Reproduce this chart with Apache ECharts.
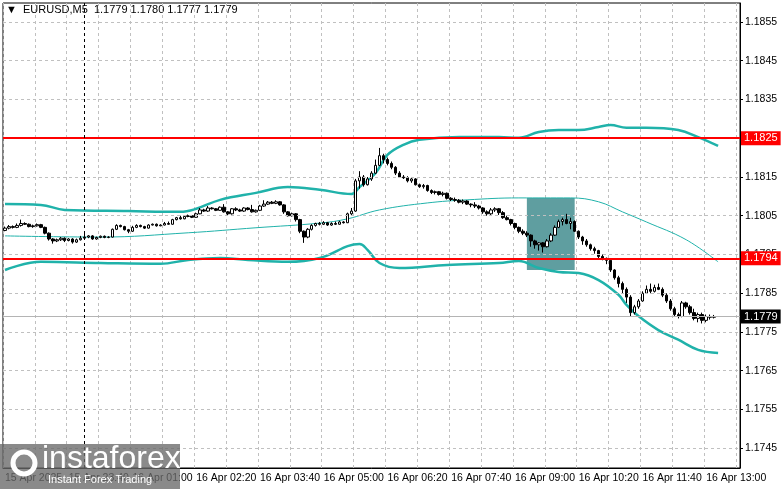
<!doctype html>
<html>
<head>
<meta charset="utf-8">
<title>EURUSD,M5</title>
<script src="https://cdn.jsdelivr.net/npm/echarts@6/dist/echarts.min.js"></script>
<style>
  html, body { margin: 0; padding: 0; background: #fff; }
  #main { width: 781px; height: 489px; }
</style>
</head>
<body>
<div id="main"></div>
<script type="text/javascript">
// all prices in points (1e-5) measured from 1.18000
var candles = [ // [open, close, low, high]
  [12,18,10,22],[18,22,15,26],[22,20,17,25],[20,25,18,30],[25,30,22,40],[30,28,26,33],[28,22,20,30],[22,24,19,27],
  [24,27,22,30],[27,20,18,29],[20,5,2,22],[5,-10,-14,7],[-10,-15,-22,-8],[-15,-12,-18,-9],[-12,-8,-15,-5],[-8,-14,-18,-6],
  [-14,-10,-16,-8],[-10,-18,-22,-8],[-18,-12,-20,-9],[-12,-8,-14,-2],[-8,-5,-10,5],[-5,-2,-8,0],[-2,-10,-12,0],[-10,-6,-12,-4],
  [-6,-3,-8,-1],[-3,-6,-8,-1],[-6,-5,-8,-3],[-5,15,-6,17],[15,25,13,28],[25,22,20,27],[22,14,12,24],[14,10,5,16],
  [10,20,8,24],[20,25,18,28],[25,22,20,27],[22,18,16,24],[18,26,17,28],[26,28,25,30],[28,24,22,30],[24,26,23,28],
  [26,30,25,34],[30,28,27,35],[28,40,27,42],[40,45,38,47],[45,42,40,50],[42,48,41,50],[48,50,46,53],[50,46,44,52],
  [46,55,45,58],[55,65,54,70],[65,62,60,68],[62,70,60,75],[70,68,66,72],[68,64,62,70],[64,72,63,74],[72,60,58,80],
  [60,55,50,62],[55,68,53,70],[68,65,62,72],[65,62,60,68],[62,70,60,72],[70,66,64,72],[66,60,58,78],[60,64,58,66],
  [64,75,62,78],[75,80,73,90],[80,85,78,88],[85,82,80,88],[82,86,80,90],[86,78,76,88],[78,60,55,80],[60,50,48,62],
  [50,55,48,58],[55,40,35,57],[40,10,5,42],[10,-5,-20,12],[-5,15,-8,18],[15,25,12,28],[25,30,22,32],[30,28,25,34],
  [28,32,26,36],[32,26,24,34],[26,30,24,33],[30,28,26,35],[28,34,27,37],[34,32,30,36],[32,55,31,58],[55,62,52,70],
  [62,140,60,145],[140,150,120,165],[150,130,125,155],[130,145,128,150],[145,160,140,165],[160,180,158,195],[180,205,178,225],[205,195,185,210],
  [195,185,180,200],[185,175,170,190],[175,160,155,178],[160,150,148,165],[150,148,145,155],[148,140,136,152],[140,145,135,150],[145,130,128,147],
  [130,125,122,133],[125,128,120,132],[128,115,112,130],[115,110,106,118],[110,112,105,115],[112,105,102,114],[105,108,100,112],[108,95,92,110],
  [95,92,88,98],[92,90,86,97],[90,85,82,93],[85,88,80,92],[88,80,78,90],[80,78,72,82],[78,75,70,85],[75,70,66,78],
  [70,60,55,72],[60,55,50,64],[55,65,52,70],[65,68,60,72],[68,58,52,70],[58,45,42,62],[45,40,38,50],[40,30,25,42],
  [30,20,15,32],[20,10,5,22],[10,5,0,15],[5,0,-5,10],[0,-15,-30,2],[-15,-25,-35,-12],[-25,-20,-40,-18],[-20,-30,-45,-18],
  [-30,-15,-32,-10],[-15,0,-18,5],[0,20,-2,25],[20,35,18,40],[35,40,25,45],[40,30,28,55],[30,35,15,45],[35,10,8,38],
  [10,-5,-10,12],[-5,-15,-25,-2],[-15,-25,-30,-10],[-25,-35,-40,-22],[-35,-40,-48,-30],[-40,-55,-60,-38],[-55,-60,-65,-50],[-60,-65,-75,-58],
  [-65,-90,-95,-62],[-90,-110,-115,-88],[-110,-125,-135,-105],[-125,-140,-150,-120],[-140,-160,-175,-135],[-160,-200,-210,-155],[-200,-185,-205,-180],[-185,-170,-190,-165],
  [-170,-150,-172,-145],[-150,-140,-152,-130],[-140,-145,-150,-125],[-145,-135,-148,-128],[-135,-140,-142,-125],[-140,-155,-160,-135],[-155,-170,-175,-150],[-170,-190,-195,-165],
  [-190,-205,-210,-185],[-205,-210,-215,-200],[-210,-175,-212,-170],[-175,-185,-190,-172],[-185,-200,-205,-180],[-200,-215,-220,-190],[-215,-205,-225,-200],[-205,-220,-228,-200],
  [-220,-210,-225,-205],[-210,-212,-218,-205],[-212,-210,-215,-206]
];
// bollinger bands: [candle index, points]
var bandUpper = [[0,80],[9,78],[15,65],[31,62],[44,60],[48,68],[54,91],[63,109],[71,124],[79,117],[87,106],[89,124],[93,160],[96,207],
  [100,233],[104,246],[114,253],[124,253],[129,251],[134,266],[139,271],[144,271],[149,279],[152,284],[156,277],[161,277],[169,271],[174,253],[179,230]];
var bandMiddle = [[0,-2],[24,-5],[46,6],[63,19],[79,31],[86,42],[94,65],[106,83],[116,91],[129,96],[142,96],[149,86],[155,60],[161,34],[171,-12],[179,-69]];
var bandLower = [[0,-90],[9,-69],[24,-72],[39,-74],[46,-64],[54,-59],[61,-64],[71,-69],[79,-59],[89,-23],[91,-38],[94,-72],[99,-85],[111,-77],
  [124,-72],[129,-67],[134,-85],[139,-95],[144,-98],[149,-116],[154,-154],[156,-180],[159,-209],[164,-245],[169,-270],[174,-296],[179,-304]];
var priceTicks = [-550, -450, -350, -250, -150, -50, 50, 150, 250, 350, 450, 550]; // 1.1745 ... 1.1855
var levels = [250, -60];   // 1.1825, 1.1794
var lastPrice = -210;      // 1.1779
var boxRange = [131, 143, -90, 96];

// 5-minute slots from 15 Apr 22:20
var categories = [];
for (var k = 0; k < 185; k++) {
  var m = 22 * 60 + 20 + k * 5;
  var day = m >= 1440 ? 16 : 15;
  m = m % 1440;
  var hh = ('0' + Math.floor(m / 60)).slice(-2), mm = ('0' + (m % 60)).slice(-2);
  categories.push(k === 0 ? '15 Apr 2025' : day + ' Apr ' + hh + ':' + mm);
}

function price(p) { return (1.18 + p / 1e5).toFixed(4); }

var myChart = echarts.init(document.getElementById('main'));
var font = 'Liberation Sans';

function band(pts, w) {
  return {
    type: 'line', smooth: 0.4, symbol: 'none', data: pts,
    lineStyle: { color: '#20b2aa', width: w }, z: 2
  };
}
function level(p, bg, col) {
  return {
    yAxis: p, lineStyle: { color: col, width: col === '#ff0000' ? 2 : 1, type: 'solid' },
    label: { show: true, position: 'end', distance: 1, formatter: price(p), color: '#fff',
      backgroundColor: bg, padding: [2, 3, 1, 3], fontSize: 11, fontFamily: font }
  };
}
var gridLines = priceTicks.map(function (p) {
  return { yAxis: p, lineStyle: { color: '#c0c0c0', type: [3, 3], width: 1 }, label: { show: false } };
});

var option = {
  animation: false,
  grid: { left: 3, right: 41, top: 3, bottom: 21, show: true, borderColor: '#000', borderWidth: 1 },
  xAxis: {
    type: 'category', data: categories, boundaryGap: true,
    axisLine: { onZero: false, lineStyle: { color: '#000' } },
    axisTick: { show: false },
    axisLabel: { interval: function (i) { return i % 16 === 0; }, align: 'left', margin: 5,
      fontSize: 10.5, color: '#000', fontFamily: font },
    splitLine: { show: true, interval: function (i) { return i % 8 === 0; },
      lineStyle: { color: '#c0c0c0', type: [3, 3] } }
  },
  yAxis: {
    type: 'value', position: 'right', min: -601, max: 599,
    axisLine: { show: true, lineStyle: { color: '#000' } },
    axisTick: { show: true, length: 3, customValues: priceTicks, lineStyle: { color: '#000' } },
    axisLabel: { margin: 5, fontSize: 10.5, color: '#000', fontFamily: font, customValues: priceTicks,
      formatter: function (v) { return price(v); } },
    splitLine: { show: false }
  },
  series: [
    {
      type: 'candlestick', barWidth: 3, z: 3, data: candles,
      itemStyle: { color: '#fff', color0: '#000', borderColor: '#000', borderColor0: '#000', borderWidth: 1 },
      markArea: {
        silent: true,
        itemStyle: { color: 'rgb(95,158,160)' },
        data: [[{ xAxis: boxRange[0], yAxis: boxRange[2] }, { xAxis: boxRange[1], yAxis: boxRange[3] }]]
      },
      markLine: {
        silent: true, symbol: 'none', animation: false,
        data: gridLines.concat([
          level(lastPrice, '#000', '#b4b4b4'),
          level(levels[0], '#ff0000', '#ff0000'),
          level(levels[1], '#ff0000', '#ff0000'),
          { xAxis: 20, lineStyle: { color: '#000', type: [3, 3], width: 1 }, label: { show: false } }
        ])
      }
    },
    band(bandUpper, 2.5),
    band(bandMiddle, 1),
    band(bandLower, 2.5)
  ],
  graphic: [
    { type: 'text', left: 6, top: 4, style: { text: '▼  EURUSD,M5  1.1779 1.1780 1.1777 1.1779',
      fill: '#000', font: '11px ' + font } },
    { type: 'rect', left: 0, top: 444, shape: { width: 180, height: 45 }, style: { fill: 'rgba(105,105,105,0.78)' }, z: 10 },
    { type: 'circle', shape: { cx: 24, cy: 463, r: 11 }, style: { fill: 'none', stroke: '#fff', lineWidth: 5 }, z: 11 },
    { type: 'text', left: 42, top: 443, style: { text: 'instaforex', fill: '#fff', font: '32px ' + font }, z: 11 },
    { type: 'text', left: 48, top: 474, style: { text: 'Instant Forex Trading', fill: '#fff', font: '11px ' + font }, z: 11 }
  ]
};
myChart.setOption(option);
</script>
</body>
</html>
